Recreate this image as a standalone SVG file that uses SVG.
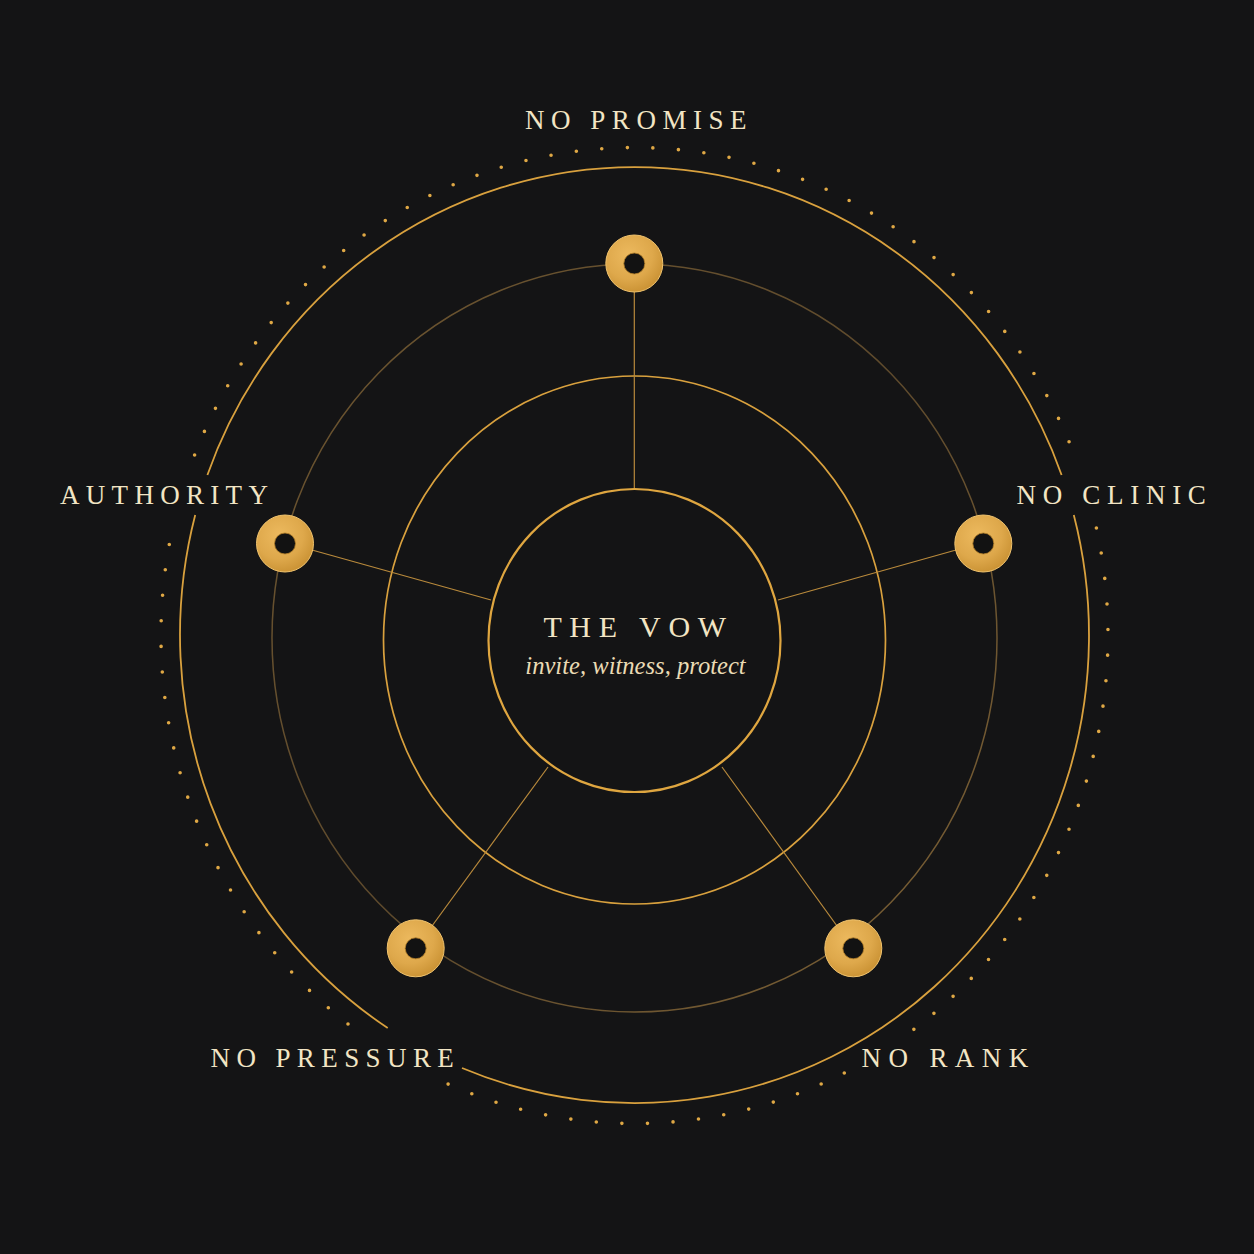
<svg xmlns="http://www.w3.org/2000/svg" width="1254" height="1254" viewBox="0 0 1254 1254">
  <defs>
    <radialGradient id="gNode" cx="40%" cy="35%" r="70%">
      <stop offset="0" stop-color="#ecb95e"/>
      <stop offset="0.6" stop-color="#dea84b"/>
      <stop offset="1" stop-color="#c89032"/>
    </radialGradient>
    <linearGradient id="gRing3" x1="0" y1="0" x2="1" y2="1">
      <stop offset="0" stop-color="#6e5630"/>
      <stop offset="0.5" stop-color="#5e4a2c"/>
      <stop offset="1" stop-color="#7e6235"/>
    </linearGradient>
    <style>
      .ring { fill: none; stroke: #d9a13e; }
      .dots { fill: none; stroke: #dfa845; stroke-width: 3.6; stroke-linecap: round; stroke-dasharray: 0 25.6; }
      .spoke { stroke: #b98a3c; stroke-width: 1.2; fill: none; }
      .node { fill: url(#gNode); stroke: #f0c36e; stroke-width: 1; }
      .hole { fill: #121212; stroke: #b07c28; stroke-width: 0.8; }
      .label { font-family: "Liberation Serif", "Times New Roman", serif; font-size: 27px; fill: #f2e5c4; letter-spacing: 6.7px; }
      .title { font-family: "Liberation Serif", "Times New Roman", serif; font-size: 30px; fill: #f2e5c4; letter-spacing: 7.6px; }
      .sub { font-family: "Liberation Serif", "Times New Roman", serif; font-style: italic; font-size: 24.6px; fill: #eadbb4; }
    </style>
  </defs>

  <rect x="0" y="0" width="1254" height="1254" fill="#141415"/>

  <g id="rings">
    <!-- dotted outer ring -->
    <path class="dots" d="M 194.6 455 A 473.5 488 0 0 1 1074.4 455"/>
    <path class="dots" d="M 1096.4 528 A 473.5 488 0 0 1 902 1038"/>
    <path class="dots" d="M 844.3 1073 A 473.5 488 0 0 1 430.7 1076"/>
    <path class="dots" d="M 348 1024 A 473.5 488 0 0 1 172.6 528"/>
    <!-- outer solid ring with gaps -->
    <path class="ring" stroke-width="1.8" d="M 207.4 475 A 454.5 468 0 0 1 1061.6 475"/>
    <path class="ring" stroke-width="1.8" d="M 1073.8 515 A 454.5 468 0 0 1 462 1068"/>
    <path class="ring" stroke-width="1.8" d="M 387.7 1028 A 454.5 468 0 0 1 195.2 515"/>
    <!-- dim ring through nodes -->
    <ellipse cx="634.5" cy="638" rx="362.5" ry="374" fill="none" stroke="url(#gRing3)" stroke-width="1.5"/>
    <!-- middle ring -->
    <ellipse class="ring" cx="634.5" cy="640" rx="251" ry="264" stroke-width="1.7"/>
  </g>

  <g id="connectors">
    <line class="spoke" x1="634.3" y1="489" x2="634.3" y2="292"/>
    <line class="spoke" x1="491" y1="600" x2="312" y2="550"/>
    <line class="spoke" x1="778" y1="600" x2="956" y2="550"/>
    <line class="spoke" x1="548" y1="767" x2="432" y2="926"/>
    <line class="spoke" x1="722" y1="767" x2="837" y2="926"/>
  </g>

  <g id="center">
    <ellipse cx="634.5" cy="640.5" rx="146" ry="151.5" fill="#141415" stroke="#dfa640" stroke-width="2.2"/>
    <text class="title" x="638.5" y="637" text-anchor="middle">THE VOW</text>
    <text class="sub" x="635.5" y="674" text-anchor="middle">invite, witness, protect</text>
  </g>

  <g id="node-no-promise">
    <circle class="node" cx="634.3" cy="263.5" r="28.5"/>
    <circle class="hole" cx="634.3" cy="263.5" r="10.5"/>
    <text class="label" x="639" y="129" text-anchor="middle" style="letter-spacing:6.5px">NO PROMISE</text>
  </g>

  <g id="node-authority">
    <circle class="node" cx="285" cy="543.5" r="28.5"/>
    <circle class="hole" cx="285" cy="543.5" r="10.5"/>
    <text class="label" x="60" y="503.5" style="letter-spacing:6.3px">AUTHORITY</text>
  </g>

  <g id="node-no-clinic">
    <circle class="node" cx="983.3" cy="543.5" r="28.5"/>
    <circle class="hole" cx="983.3" cy="543.5" r="10.5"/>
    <text class="label" x="1016.5" y="503.5" style="letter-spacing:6.7px">NO CLINIC</text>
  </g>

  <g id="node-no-pressure">
    <circle class="node" cx="415.7" cy="948.3" r="28.5"/>
    <circle class="hole" cx="415.7" cy="948.3" r="10.5"/>
    <text class="label" x="210.5" y="1067" style="letter-spacing:6.4px">NO PRESSURE</text>
  </g>

  <g id="node-no-rank">
    <circle class="node" cx="853.3" cy="948.3" r="28.5"/>
    <circle class="hole" cx="853.3" cy="948.3" r="10.5"/>
    <text class="label" x="861.5" y="1067" style="letter-spacing:7.4px">NO RANK</text>
  </g>
</svg>
